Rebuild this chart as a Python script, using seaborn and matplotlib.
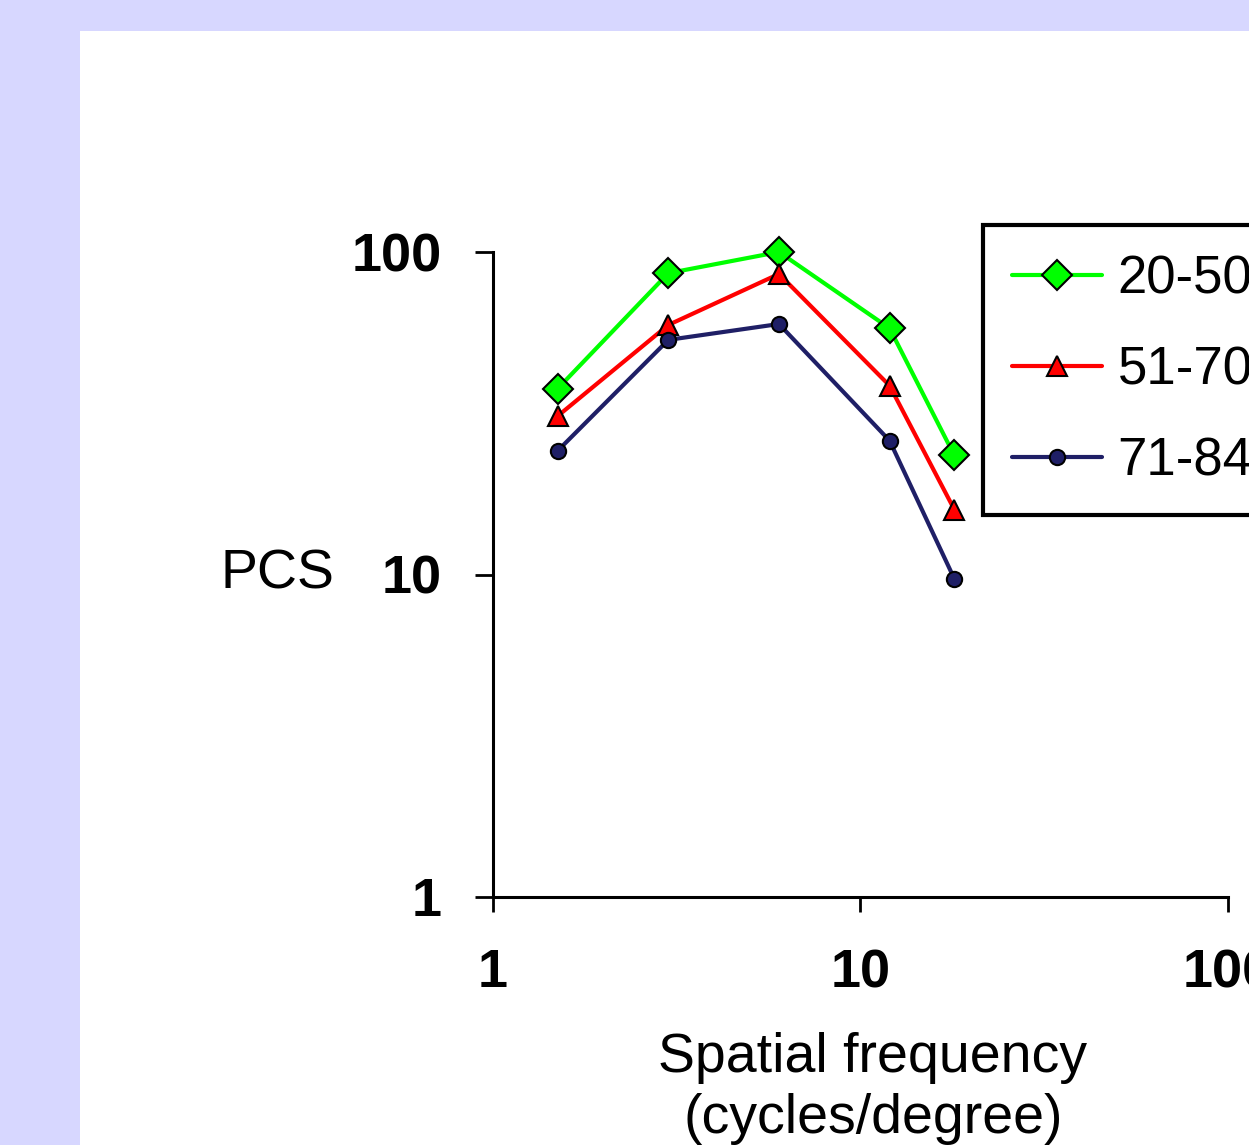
import matplotlib
matplotlib.use("Agg")
import matplotlib.pyplot as plt
from matplotlib.patches import Rectangle
import seaborn as sns
import pandas as pd

# Data (log-log contrast sensitivity)
spatial_freq = [1.5, 3, 6, 12, 18]
pcs_20_50 = [37.7, 86, 100, 58, 23.4]
pcs_51_70 = [31, 59.4, 85.5, 38.5, 15.9]
pcs_71_84 = [24.2, 53.4, 59.8, 26, 9.7]
groups = ["20-50", "51-70", "71-84"]
x_ticks = [1, 10, 100]
y_ticks = [1, 10, 100]

sns.set_theme(style="white")
plt.rcParams['font.family'] = ['Liberation Sans', 'DejaVu Sans']
plt.rcParams['text.color'] = 'black'
plt.rcParams['axes.labelcolor'] = 'black'
plt.rcParams['xtick.color'] = 'black'
plt.rcParams['ytick.color'] = 'black'

df = pd.DataFrame({
    "freq": spatial_freq * 3,
    "pcs": pcs_20_50 + pcs_51_70 + pcs_71_84,
    "group": [g for g in groups for _ in spatial_freq],
})

styles = {
    "20-50": dict(color="#00FF00", marker="D", markersize=15),
    "51-70": dict(color="#FF0000", marker="^", markersize=15),
    "71-84": dict(color="#1F1F66", marker="o", markersize=11),
}

fig = plt.figure(figsize=(12.49, 11.45), dpi=100)
fig.patch.set_facecolor("#D7D7FF")
fig.patches.append(Rectangle((80 / 1249, 0), 1, 1 - 31 / 1145,
                             transform=fig.transFigure, facecolor="white",
                             edgecolor="none", zorder=-5))

ax = fig.add_axes([493 / 1249, 1 - 897 / 1145, (1228 - 493) / 1249, (897 - 252) / 1145])
ax.set_facecolor("white")
ax.set_zorder(2)

for g in groups:
    st = styles[g]
    sns.lineplot(data=df[df["group"] == g], x="freq", y="pcs", ax=ax,
                 color=st["color"], marker=st["marker"], markersize=st["markersize"],
                 markeredgecolor="black", markeredgewidth=1.5, linewidth=3,
                 label=g, clip_on=False)

ax.set_xscale("log")
ax.set_yscale("log")
ax.set_xlim(1, 100)
ax.set_ylim(1, 100)
ax.set_xticks(x_ticks)
ax.set_xticklabels([str(t) for t in x_ticks])
ax.set_yticks(y_ticks)
ax.set_yticklabels([str(t) for t in y_ticks])
ax.minorticks_off()

for side in ["top", "right"]:
    ax.spines[side].set_visible(False)
for side in ["left", "bottom"]:
    ax.spines[side].set_color("black")
    ax.spines[side].set_linewidth(2.2)

ax.tick_params(axis="x", direction="out", length=11, width=2, color="black",
               labelsize=39, pad=26, bottom=True)
ax.tick_params(axis="y", direction="out", length=13, width=2, color="black",
               labelsize=39, pad=24, left=True)
for lbl in ax.get_xticklabels() + ax.get_yticklabels():
    lbl.set_fontweight("bold")

ax.set_xlabel("Spatial frequency\n(cycles/degree)", fontsize=40, labelpad=24,
              linespacing=1.22)
ax.xaxis.set_label_coords(0.517, -0.21, transform=ax.transAxes)
ax.xaxis.label.set_va("top")
ax.set_ylabel("PCS", fontsize=40, rotation=0, va="center", ha="center")
ax.yaxis.set_label_coords(-0.293, 0.5)

leg = ax.legend(loc="upper left", bbox_to_anchor=(983 / 1249, 1 - 225 / 1145),
                bbox_transform=fig.transFigure, fontsize=38, frameon=True,
                fancybox=False, framealpha=1, borderaxespad=0,
                handlelength=1.7, handletextpad=0.3,
                labelspacing=0.78, borderpad=0.55)
leg.get_frame().set_edgecolor("black")
leg.get_frame().set_linewidth(3)

fig.savefig("out.png", dpi=100, facecolor=fig.get_facecolor())
